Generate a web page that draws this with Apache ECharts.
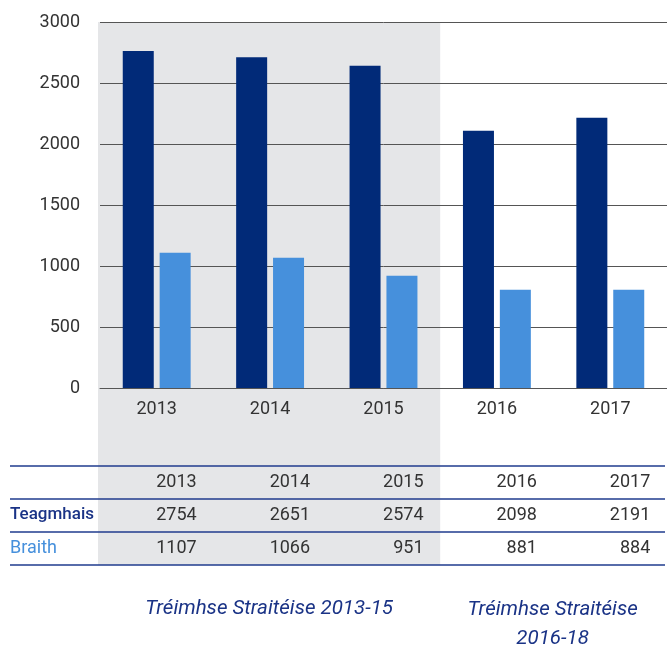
<!DOCTYPE html>
<html>
<head>
<meta charset="utf-8">
<script src="https://cdn.jsdelivr.net/npm/echarts@6/dist/echarts.min.js"></script>
<style>
html, body { margin: 0; padding: 0; background: #fff; }
#chart { width: 667px; height: 647px; }
</style>
</head>
<body>
<div id="chart"></div>
<script>
var years = ['2013', '2014', '2015', '2016', '2017'];
// bar heights as drawn
var teagmhais = [2763, 2711, 2641, 2109, 2216];
var braith = [1108, 1067, 920, 806, 806];
// values printed in the table
var teagmhaisTable = ['2754', '2651', '2574', '2098', '2191'];
var braithTable = ['1107', '1066', '951', '881', '884'];
var yTicks = [0, 500, 1000, 1500, 2000, 2500, 3000];
var periodLabels = ['Tréimhse Straitéise 2013-15', 'Tréimhse Straitéise\n2016-18'];

var navy = '#012a78';
var light = '#4690dc';
var grey = '#e5e6e8';
var font = 'Roboto';

var chartDom = document.getElementById('chart');
var myChart = echarts.init(chartDom);
var option = {
  animation: false,
  grid: { left: 100, right: -3, top: 22, bottom: 259 },
  xAxis: {
    type: 'category',
    data: years,
    axisLine: { show: true, lineStyle: { color: '#555', width: 1 } },
    axisTick: { show: false },
    axisLabel: { color: '#333', fontSize: 18, fontFamily: font, margin: 12 }
  },
  yAxis: {
    type: 'value',
    min: yTicks[0],
    max: yTicks[yTicks.length - 1],
    interval: 500,
    axisLine: { show: false },
    axisTick: { show: false },
    axisLabel: { color: '#333', fontSize: 18, fontFamily: font, margin: 20,
      formatter: function (v) { return String(v); } },
    splitLine: { lineStyle: { color: '#555', width: 1 } }
  },
  series: [
    { name: 'Teagmhais', type: 'bar', data: teagmhais, barWidth: 31, barGap: '19%',
      itemStyle: { color: navy }, z: 3 },
    { name: 'Braith', type: 'bar', data: braith, barWidth: 31,
      itemStyle: { color: light }, z: 3 }
  ]
};
myChart.setOption(option);

// decorations placed from the category axis
var cx = years.map(function (y) { return myChart.convertToPixel({ xAxisIndex: 0 }, y); });
var cw = cx[1] - cx[0];
var bandLeft = 98;
var bandRight = cx[2] + cw / 2;
var right = 665;
var rowLines = [466, 499, 532, 565];
var rowY = [482, 515, 548];

var els = [];
els.push({ type: 'rect', z: -10, silent: true,
  shape: { x: bandLeft, y: 22, width: bandRight - bandLeft, height: 565 - 22 },
  style: { fill: grey } });
rowLines.forEach(function (y) {
  els.push({ type: 'line', shape: { x1: 10, y1: y, x2: right, y2: y },
    style: { stroke: '#1f3b8e', lineWidth: 1.5 } });
});
var rows = [years, teagmhaisTable, braithTable];
rows.forEach(function (row, r) {
  row.forEach(function (v, i) {
    els.push({ type: 'text', x: cx[i] + 40, y: rowY[r],
      style: { text: v, fill: '#333', fontSize: 18, fontFamily: font,
        align: 'right', verticalAlign: 'middle' } });
  });
});
els.push({ type: 'text', x: 10, y: rowY[1],
  style: { text: 'Teagmhais', fill: '#1a3386', fontSize: 17, fontFamily: font,
    fontWeight: 500, align: 'left', verticalAlign: 'middle' } });
els.push({ type: 'text', x: 10, y: rowY[2],
  style: { text: 'Braith', fill: light, fontSize: 18, fontFamily: font,
    align: 'left', verticalAlign: 'middle' } });
els.push({ type: 'text', x: (bandLeft + bandRight) / 2, y: 609,
  style: { text: periodLabels[0], fill: '#1a3386', fontSize: 20.5, fontFamily: font,
    fontStyle: 'italic', align: 'center', verticalAlign: 'middle' } });
els.push({ type: 'text', x: (bandRight + right) / 2, y: 595,
  style: { text: periodLabels[1], fill: '#1a3386', fontSize: 20.5, fontFamily: font,
    fontStyle: 'italic', align: 'center', verticalAlign: 'top', lineHeight: 29 } });

myChart.setOption({ graphic: { elements: els } });
</script>
</body>
</html>
